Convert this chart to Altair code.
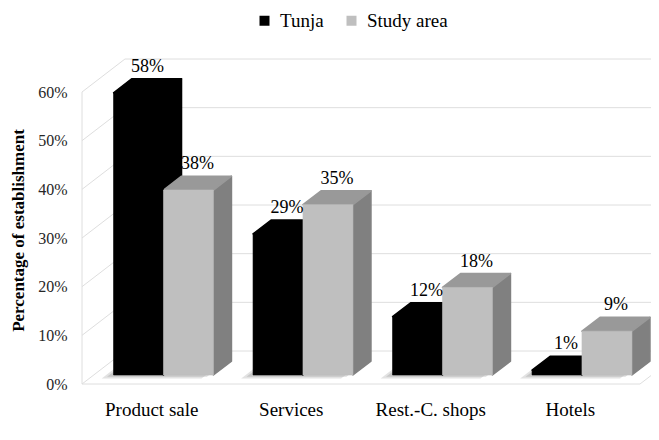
import altair as alt
import pandas as pd

# ---- data ----
categories = ["Product sale", "Services", "Rest.-C. shops", "Hotels"]
series = ["Tunja", "Study area"]
tunja = [58, 29, 12, 1]
study_area = [38, 35, 18, 9]
y_ticks = [0, 10, 20, 30, 40, 50, 60]

# ---- pseudo-3D geometry (in data units) ----
WALL_DX = 0.308   # box depth along x (category units)
WALL_DY = 6.78    # box depth along y (percent units)
BAR_W = 0.358     # width of one bar (category units)
FRONT_F = 0.273   # depth fraction of bar front faces
BAR_F = 0.42      # depth fraction of bars
SH_DX = -0.085    # shadow shift (category units)
SH_DY = -0.7      # shadow shift (percent units)
N = len(categories)

FRONT = {"Tunja": "#000000", "Study area": "#bfbfbf"}
TOP = {"Tunja": "#000000", "Study area": "#999999"}
SIDE = {"Tunja": "#000000", "Study area": "#808080"}
FONT = "Liberation Serif"

xs = alt.Scale(domain=[0, N], nice=False, zero=False)
ys = alt.Scale(domain=[0, 60], nice=False, zero=False)
YAX = alt.Axis(
    values=y_ticks, labelExpr="datum.value + '%'", grid=False, domain=False, ticks=False,
    labelPadding=15, labelFont=FONT, labelFontSize=16, labelColor="#262626",
    title="Percentage of establishment", titleFont=FONT, titleFontSize=17,
    titleFontWeight="bold", titleColor="#000000", titlePadding=10, titleY=138,
)


def X(f="x"):
    return alt.X(f"{f}:Q", scale=xs, axis=None)


def Y(f="y"):
    return alt.Y(f"{f}:Q", scale=ys, axis=YAX, stack=None)


def face(rows, color, opacity=1.0, stroke=True):
    mk = dict(color=color, opacity=opacity, interpolate="linear")
    if stroke:
        mk.update(stroke=color, strokeWidth=1.5, strokeJoin="round")
    return alt.Chart(pd.DataFrame(rows)).mark_area(**mk).encode(x=X(), y=Y(), y2="y2:Q")


front_rows, label_rows = [], []
shadow_layers, face_layers = [], {s: [] for s in series}
bdx = BAR_F * WALL_DX
bdy = BAR_F * WALL_DY
b = FRONT_F * WALL_DY
for i, cat in enumerate(categories):
    g0 = i + 0.5 - BAR_W + FRONT_F * WALL_DX
    g1 = g0 + 2 * BAR_W
    # soft floor shadow of the group footprint
    for k, (sh_f, op) in enumerate([(1.0, 0.25), (0.55, 0.3)]):
        sx0, sx1, sb = g0 + SH_DX * sh_f, g1 + SH_DX * sh_f, b + SH_DY * sh_f
        shadow_layers.append(face([
            dict(x=sx0, y=sb, y2=sb),
            dict(x=sx0 + bdx, y=sb, y2=sb + bdy),
            dict(x=sx1, y=sb, y2=sb + bdy),
            dict(x=sx1 + bdx, y=sb + bdy, y2=sb + bdy),
        ], "#8a8a8a", op, stroke=False))
    for j, (s, vals) in enumerate(zip(series, [tunja, study_area])):
        v = vals[i]
        x0 = g0 + j * BAR_W
        x1 = x0 + BAR_W
        t = v + b
        front_rows.append(dict(series=s, x=x0, x2=x1, y=b, y2=t))
        face_layers[s].append(face([
            dict(x=x1, y=b, y2=t),
            dict(x=x1 + bdx, y=b + bdy, y2=t + bdy),
        ], SIDE[s]))
        face_layers[s].append(face([
            dict(x=x0, y=t, y2=t),
            dict(x=x0 + bdx, y=t, y2=t + bdy),
            dict(x=x1, y=t, y2=t + bdy),
            dict(x=x1 + bdx, y=t + bdy, y2=t + bdy),
        ], TOP[s]))
        label_rows.append(dict(series=s, x=(x0 + x1) / 2 + bdx / 2, y=t + bdy, text=f"{v}%"))

front_df = pd.DataFrame(front_rows)
label_df = pd.DataFrame(label_rows)

# walls and floor
rule_rows = []
for tv in y_ticks:
    rule_rows.append(dict(x=0, y=tv, x2=WALL_DX, y2=tv + WALL_DY))
    rule_rows.append(dict(x=WALL_DX, y=tv + WALL_DY, x2=N + 0.6, y2=tv + WALL_DY))
rule_rows.append(dict(x=0, y=0, x2=0, y2=y_ticks[-1]))
rule_rows.append(dict(x=0, y=0, x2=N, y2=0))
rule_rows.append(dict(x=N, y=0, x2=N + WALL_DX, y2=WALL_DY))
rule_df = pd.DataFrame(rule_rows)

cat_df = pd.DataFrame({"x": [i + 0.5 for i in range(N)], "y": [0] * N, "text": categories})

rules = alt.Chart(rule_df).mark_rule(color="#dedede", strokeWidth=1).encode(
    x=X(), x2="x2:Q", y=Y(), y2="y2:Q"
)

layers = [rules] + shadow_layers
for s in series:
    layers += face_layers[s]

color_scale = alt.Scale(domain=series, range=[FRONT[s] for s in series])
fronts = alt.Chart(front_df).mark_rect(strokeWidth=0.6).encode(
    x=X(), x2="x2:Q", y=Y(), y2="y2:Q",
    stroke=alt.Stroke("series:N", scale=color_scale, legend=None),
    color=alt.Color(
        "series:N",
        scale=color_scale,
        legend=alt.Legend(
            title=None, orient="none", legendX=173, legendY=-81, direction="horizontal",
            symbolType="square", symbolSize=100, symbolStrokeWidth=0, labelFont=FONT,
            labelFontSize=19, labelColor="#000000", columnPadding=18, labelOffset=6,
        ),
    ),
)
layers.append(fronts)

values = alt.Chart(label_df).mark_text(
    font=FONT, fontSize=18, color="#000000", baseline="alphabetic", dy=-7
).encode(x=X(), y=Y(), text="text:N")

cats = alt.Chart(cat_df).mark_text(
    font=FONT, fontSize=19, color="#000000", baseline="alphabetic", dy=32
).encode(x=X(), y=Y(), text="text:N")

layers += [values, cats]

chart = alt.layer(*layers).properties(
    width=558, height=292,
    autosize=alt.AutoSizeParams(type="none"),
    padding={"left": 74, "top": 84, "right": 11, "bottom": 48},
    background="white",
).configure_view(stroke=None)

chart.save("out.html", embed_options={"renderer": "svg", "actions": False})
